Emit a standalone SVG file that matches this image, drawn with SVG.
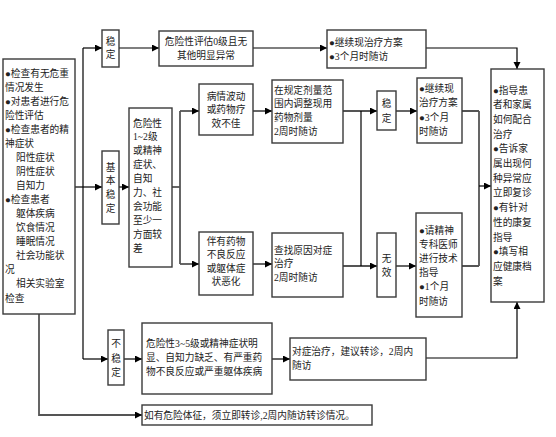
<svg xmlns="http://www.w3.org/2000/svg" width="556" height="437" viewBox="0 0 556 437">
<style>
.b{fill:#fff;stroke:#3a3a3a;stroke-width:1.4}
.t{font-family:"Liberation Serif","Noto Sans CJK SC",serif;font-size:9.7px;fill:#222}
.m{text-anchor:middle}
.c{fill:none;stroke:#000;stroke-width:1.2}
.g{fill:none;stroke:#555;stroke-width:1.8}
</style>
<defs>
<marker id="ar" markerUnits="userSpaceOnUse" markerWidth="8" markerHeight="8" refX="7" refY="3.5" orient="auto">
<path d="M0,0 L7,3.5 L0,7 z" fill="#000"/>
</marker>
</defs>
<rect width="556" height="437" fill="#fff"/>
<g id="connectors">
<path class="c" d="M83,48 V359"/>
<path class="c" d="M83,48 H102" marker-end="url(#ar)"/>
<path class="c" d="M75,187 H102" marker-end="url(#ar)"/>
<path class="c" d="M83,359 H108" marker-end="url(#ar)"/>
<path class="c" d="M119,48 H159" marker-end="url(#ar)"/>
<path class="c" d="M253,48 H327" marker-end="url(#ar)"/>
<path class="c" d="M426,48 H517 V69" marker-end="url(#ar)"/>
<path class="c" d="M119,187 H129" marker-end="url(#ar)"/>
<path class="c" d="M172,187 H180"/>
<path class="g" d="M180,111 V264"/>
<path class="g" d="M180,111 H199" marker-end="url(#ar)"/>
<path class="g" d="M180,264 H199" marker-end="url(#ar)"/>
<path class="g" d="M253,111 H272" marker-end="url(#ar)"/>
<path class="g" d="M253,264 H272" marker-end="url(#ar)"/>
<path class="g" d="M343,111 H377" marker-end="url(#ar)"/>
<path class="g" d="M343,266 H377" marker-end="url(#ar)"/>
<path class="c" d="M361,111 V266"/>
<path class="g" d="M396,111 H417" marker-end="url(#ar)"/>
<path class="g" d="M396,266 H416" marker-end="url(#ar)"/>
<path class="g" d="M462,111 H479 M462,266 H479 M479,111 V266"/>
<path class="c" d="M479,186 H491" marker-end="url(#ar)"/>
<path class="c" d="M124,359 H142" marker-end="url(#ar)"/>
<path class="c" d="M272,359 H290" marker-end="url(#ar)"/>
<path class="c" d="M426,358 H517 V302" marker-end="url(#ar)"/>
<path class="g" d="M39,314 V415 H142" marker-end="url(#ar)"/>
</g>
<g id="n-check">
<rect class="b" x="3" y="59" width="72" height="255"/>
<text class="t">
<tspan x="5" y="76.5">●检查有无危重</tspan>
<tspan x="5" y="90.6">情况发生</tspan>
<tspan x="5" y="104.6">●对患者进行危</tspan>
<tspan x="5" y="118.7">险性评估</tspan>
<tspan x="5" y="132.7">●检查患者的精</tspan>
<tspan x="5" y="146.8">神症状</tspan>
<tspan x="16" y="160.9">阳性症状</tspan>
<tspan x="16" y="174.9">阴性症状</tspan>
<tspan x="16" y="189">自知力</tspan>
<tspan x="5" y="203">●检查患者</tspan>
<tspan x="16" y="217.1">躯体疾病</tspan>
<tspan x="16" y="231.2">饮食情况</tspan>
<tspan x="16" y="245.2">睡眠情况</tspan>
<tspan x="16" y="259.3">社会功能状</tspan>
<tspan x="5" y="273.3">况</tspan>
<tspan x="16" y="287.4">相关实验室</tspan>
<tspan x="5" y="301.5">检查</tspan>
</text>
</g>
<g id="n-stable">
<rect class="b" x="102" y="30" width="17" height="37"/>
<text class="t m"><tspan x="110.5" y="44.5">稳</tspan><tspan x="110.5" y="57.5">定</tspan></text>
</g>
<g id="n-risk0">
<rect class="b" x="159" y="31" width="94" height="35"/>
<text class="t m"><tspan x="206" y="45">危险性评估0级且无</tspan><tspan x="206" y="58.5">其他明显异常</tspan></text>
</g>
<g id="n-continue-top">
<rect class="b" x="327" y="30" width="99" height="38"/>
<text class="t"><tspan x="329" y="45.5">●继续现治疗方案</tspan><tspan x="329" y="59.5">●3个月时随访</tspan></text>
</g>
<g id="n-basic">
<rect class="b" x="102" y="151" width="17" height="73"/>
<text class="t m"><tspan x="110.5" y="170.5">基</tspan><tspan x="110.5" y="184">本</tspan><tspan x="110.5" y="197.5">稳</tspan><tspan x="110.5" y="211.5">定</tspan></text>
</g>
<g id="n-risk12">
<rect class="b" x="129" y="108" width="43" height="159"/>
<text class="t">
<tspan x="133" y="126.5">危险性</tspan>
<tspan x="133" y="140.4">1~2级</tspan>
<tspan x="133" y="154.3">或精神</tspan>
<tspan x="133" y="168.2">症状、</tspan>
<tspan x="133" y="182.1">自知</tspan>
<tspan x="133" y="196">力、社</tspan>
<tspan x="133" y="209.9">会功能</tspan>
<tspan x="133" y="223.8">至少一</tspan>
<tspan x="133" y="237.7">方面较</tspan>
<tspan x="133" y="251.6">差</tspan>
</text>
</g>
<g id="n-fluct">
<rect class="b" x="199" y="84" width="54" height="51"/>
<text class="t m"><tspan x="226" y="99.5">病情波动</tspan><tspan x="226" y="113">或药物疗</tspan><tspan x="226" y="126.5">效不佳</tspan></text>
</g>
<g id="n-adverse">
<rect class="b" x="199" y="232" width="54" height="63"/>
<text class="t m"><tspan x="226" y="245">伴有药物</tspan><tspan x="226" y="258.3">不良反应</tspan><tspan x="226" y="271.6">或躯体症</tspan><tspan x="226" y="285">状恶化</tspan></text>
</g>
<g id="n-adjust">
<rect class="b" x="272" y="80" width="71" height="63"/>
<text class="t"><tspan x="274" y="93.5">在规定剂量范</tspan><tspan x="274" y="107.3">围内调整现用</tspan><tspan x="274" y="121">药物剂量</tspan><tspan x="274" y="134.5">2周时随访</tspan></text>
</g>
<g id="n-cause">
<rect class="b" x="272" y="233" width="71" height="64"/>
<text class="t"><tspan x="274" y="253.5">查找原因对症</tspan><tspan x="274" y="267.3">治疗</tspan><tspan x="274" y="281.3">2周时随访</tspan></text>
</g>
<g id="n-stable2">
<rect class="b" x="377" y="91" width="19" height="39"/>
<text class="t m"><tspan x="386.5" y="106.5">稳</tspan><tspan x="386.5" y="121.5">定</tspan></text>
</g>
<g id="n-invalid">
<rect class="b" x="377" y="233" width="19" height="64"/>
<text class="t m"><tspan x="386.5" y="261.5">无</tspan><tspan x="386.5" y="275.5">效</tspan></text>
</g>
<g id="n-continue-mid">
<rect class="b" x="417" y="78" width="45" height="65"/>
<text class="t"><tspan x="419" y="91.5">●继续现</tspan><tspan x="419" y="106.3">治疗方案</tspan><tspan x="419" y="120.5">●3个月</tspan><tspan x="419" y="135.3">时随访</tspan></text>
</g>
<g id="n-expert">
<rect class="b" x="416" y="213" width="46" height="104"/>
<text class="t"><tspan x="419" y="233.5">●请精神</tspan><tspan x="419" y="248">专科医师</tspan><tspan x="419" y="262">进行技术</tspan><tspan x="419" y="276">指导</tspan><tspan x="419" y="290">●1个月</tspan><tspan x="419" y="304.5">时随访</tspan></text>
</g>
<g id="n-guide">
<rect class="b" x="491" y="69" width="53" height="233"/>
<text class="t">
<tspan x="493" y="93.5">●指导患</tspan>
<tspan x="493" y="108.2">者和家属</tspan>
<tspan x="493" y="122.9">如何配合</tspan>
<tspan x="493" y="137.6">治疗</tspan>
<tspan x="493" y="152.3">●告诉家</tspan>
<tspan x="493" y="167">属出现何</tspan>
<tspan x="493" y="181.7">种异常应</tspan>
<tspan x="493" y="196.4">立即复诊</tspan>
<tspan x="493" y="211.1">●有针对</tspan>
<tspan x="493" y="225.8">性的康复</tspan>
<tspan x="493" y="240.5">指导</tspan>
<tspan x="493" y="255.2">●填写相</tspan>
<tspan x="493" y="269.9">应健康档</tspan>
<tspan x="493" y="284.6">案</tspan>
</text>
</g>
<g id="n-unstable">
<rect class="b" x="108" y="330" width="16" height="55"/>
<text class="t m"><tspan x="116" y="346.5">不</tspan><tspan x="116" y="361.5">稳</tspan><tspan x="116" y="375.5">定</tspan></text>
</g>
<g id="n-risk35">
<rect class="b" x="142" y="323" width="130" height="71"/>
<text class="t"><tspan x="146" y="346.5">危险性3~5级或精神症状明</tspan><tspan x="146" y="361">显、自知力缺乏、有严重药</tspan><tspan x="146" y="374.5">物不良反应或严重躯体疾病</tspan></text>
</g>
<g id="n-referral">
<rect class="b" x="290" y="338" width="136" height="42"/>
<text class="t"><tspan x="292" y="354.5">对症治疗，建议转诊，2周内</tspan><tspan x="292" y="368.5">随访</tspan></text>
</g>
<g id="n-danger">
<rect class="b" x="142" y="405" width="230" height="20"/>
<text class="t"><tspan x="144" y="418.5">如有危险体征，须立即转诊,2周内随访转诊情况。</tspan></text>
</g>
</svg>
